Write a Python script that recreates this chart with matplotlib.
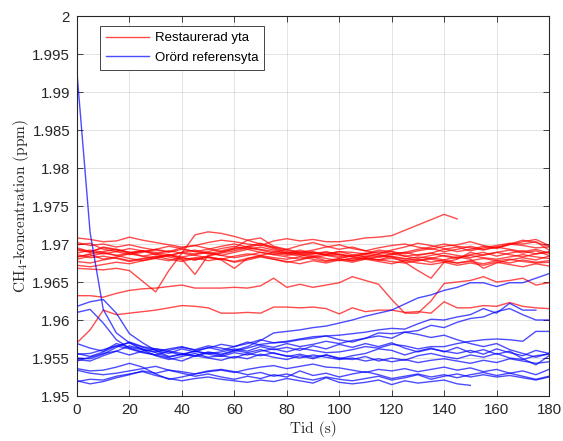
import numpy as np
import matplotlib
matplotlib.use("Agg")
import matplotlib.pyplot as plt
from matplotlib.ticker import FuncFormatter, MultipleLocator
from matplotlib.lines import Line2D

nan = np.nan
# Time axis (s)
t = list(range(0, 181, 5))

# Values in ppb above 1900 ppb (i.e. 69.0 -> 1.9690 ppm)
red_series = {
    "R_peak": [69.3,69.0,69.5,69.2,68.8,69.0,69.3,69.0,69.5,69.8,70.2,70.5,70.3,70.0,69.8,70.4,70.7,70.4,70.6,70.3,70.3,70.5,70.8,70.9,71.1,71.8,72.5,73.2,73.9,73.3,nan,nan,nan,nan,nan,nan,nan],
    "R_a": [70.8,70.6,70.3,70.4,70.9,70.5,70.2,69.9,69.6,69.8,69.4,69.0,69.3,69.6,69.9,69.4,68.8,69.2,68.8,68.6,69.0,68.9,68.7,69.2,69.0,68.4,68.6,68.8,69.3,69.6,69.1,69.5,69.8,70.1,70.0,70.3,69.2],
    "R_dip30": [66.8,66.7,66.6,66.8,66.5,65.1,63.7,66.5,68.8,71.2,71.6,71.4,71.0,70.5,70.0,69.6,69.2,68.8,69.0,68.6,68.4,68.0,68.2,67.9,68.1,67.8,68.0,67.6,67.9,67.5,67.7,67.4,67.8,67.5,67.9,67.6,67.8],
    "R_dip45": [69.9,70.1,69.3,69.0,69.4,69.1,68.9,68.6,68.0,66.0,68.5,68.9,69.4,69.7,70.1,69.5,69.0,68.6,68.9,68.5,68.2,68.5,68.8,68.6,68.3,68.0,68.3,68.1,68.5,68.2,68.6,68.9,68.4,68.8,69.1,68.7,68.9],
    "R_dip60": [69.2,68.9,69.6,69.3,68.9,68.4,68.7,69.1,68.8,68.5,68.2,67.9,66.8,68.1,68.5,68.9,69.3,69.8,70.2,69.7,69.3,69.6,69.1,68.8,69.2,69.6,70.1,69.8,69.4,69.0,69.3,69.7,69.4,70.0,69.8,69.5,69.6],
    "R_dip135": [68.8,69.2,68.9,68.5,68.8,69.1,68.7,68.4,68.9,69.2,68.8,68.5,68.9,69.3,68.9,68.6,68.9,68.6,68.2,68.5,68.7,68.4,68.6,68.4,68.3,67.6,66.5,65.5,67.6,68.0,68.9,68.5,68.9,69.2,68.8,69.1,68.5],
    "R_dip155": [68.3,68.6,68.0,68.3,68.7,68.4,68.1,68.5,68.2,67.9,68.3,68.0,67.7,68.1,68.4,68.0,67.6,67.9,68.3,67.8,68.1,67.8,68.2,67.9,68.4,68.1,67.8,68.2,67.9,68.3,68.0,66.8,67.5,67.9,68.2,67.9,68.4],
    "R_b": [68.3,68.7,69.0,69.3,68.9,69.1,68.6,68.3,67.9,68.2,67.8,68.1,67.6,67.9,68.3,68.0,67.7,67.4,67.8,67.5,67.9,67.6,68.0,67.7,67.4,67.8,67.5,67.3,67.6,67.2,67.5,67.2,67.6,67.3,67.0,67.4,67.1],
    "R_c": [67.7,67.5,67.9,68.2,67.8,68.1,68.4,68.0,67.7,68.1,68.4,68.8,69.1,69.5,69.2,68.8,68.5,68.8,68.4,68.7,69.0,68.6,68.3,68.7,69.0,68.7,69.1,69.4,69.0,69.3,69.7,69.3,69.6,70.0,70.5,70.2,69.7],
    "R_d": [67.2,67.0,67.3,67.6,67.4,67.8,68.1,67.8,68.2,67.9,68.3,68.0,68.4,68.7,68.5,68.2,68.0,68.3,68.0,67.7,68.0,67.8,68.1,67.9,67.7,67.5,67.8,68.0,67.7,67.5,67.8,68.1,67.8,68.0,67.7,67.5,67.6],
    "R_e": [69.5,69.0,68.7,69.0,68.6,68.9,69.3,69.7,69.4,69.0,68.7,69.1,69.5,70.5,70.8,69.7,69.3,68.9,69.2,69.6,69.9,69.4,69.1,69.5,69.8,70.0,69.6,69.3,69.7,69.9,70.3,69.8,69.5,69.9,70.3,70.6,69.8],
    "R_f": [68.6,68.2,68.4,68.1,67.7,68.0,68.3,68.5,68.9,68.7,69.0,69.4,69.7,69.3,69.6,69.2,68.7,68.4,68.7,69.0,68.6,68.3,68.0,68.4,68.7,68.4,68.1,68.5,68.8,68.5,68.2,68.6,68.9,68.6,68.3,68.7,69.0],
    "R_g": [70.2,69.8,70.0,69.6,69.9,69.5,69.2,68.9,69.3,69.0,69.3,69.7,70.0,69.6,69.3,69.0,68.7,69.0,68.7,68.9,68.6,68.3,68.7,69.0,68.7,68.9,69.3,69.6,70.0,69.7,69.5,69.2,69.6,69.3,69.0,69.3,68.8],
    "R_h": [68.0,68.4,68.8,68.5,68.1,67.8,68.2,68.6,68.3,68.6,68.9,68.5,68.2,68.5,68.9,68.6,68.3,68.0,68.4,68.1,67.8,68.1,68.4,68.2,68.6,68.9,68.5,68.8,68.4,68.1,68.5,68.2,68.0,68.3,68.6,68.3,68.1],
    "R_low1": [63.2,63.2,63.0,63.5,63.9,64.1,64.2,64.4,64.6,64.2,64.2,64.2,64.3,64.2,64.5,65.5,64.3,64.7,64.3,64.6,64.9,65.7,65.2,64.7,62.7,60.9,60.9,62.5,64.8,65.0,65.2,65.7,65.0,65.2,65.5,64.6,64.9],
    "R_low2": [57.0,58.7,61.3,60.7,60.9,61.1,61.3,61.6,61.9,61.8,61.6,60.9,60.9,61.0,60.9,61.7,61.7,61.6,61.7,61.5,60.8,61.6,61.1,61.3,61.3,61.0,61.1,60.9,62.4,61.6,61.6,61.9,61.8,62.3,61.8,61.6,61.5],
}

blue_series = {
    "B1": [92.5,71.5,61.4,58.3,57.0,56.1,55.3,54.8,55.2,55.6,55.1,55.3,55.0,55.6,55.3,55.7,55.2,55.5,55.1,55.4,55.0,54.8,55.2,54.6,55.0,54.7,55.3,55.6,55.2,54.9,55.4,55.1,55.6,55.0,54.8,55.3,55.5],
    "B2": [61.8,62.4,62.7,60.9,58.2,57.0,56.0,55.2,55.5,55.9,55.6,55.8,56.2,55.9,56.5,56.1,56.4,56.0,56.6,56.2,56.8,56.4,56.9,56.5,57.0,56.3,55.8,56.2,55.9,55.6,56.0,55.5,56.2,55.7,55.3,56.0,55.6],
    "B3": [61.0,61.4,59.6,57.4,56.3,55.8,55.4,55.0,54.6,55.3,55.0,54.7,55.2,54.9,55.5,55.1,54.8,55.3,54.9,55.4,54.9,55.3,55.6,56.2,56.0,55.4,55.9,56.3,55.8,56.4,55.7,56.1,55.5,55.9,54.9,54.1,55.3],
    "B4": [56.9,56.3,55.9,56.9,56.4,56.1,55.8,56.2,56.5,56.0,56.3,56.8,56.5,57.1,56.7,56.4,56.9,56.5,56.8,57.2,56.9,57.3,57.6,57.9,57.6,58.4,58.1,57.7,58.0,57.4,56.9,56.5,56.9,56.1,55.6,55.1,55.6],
    "Ba": [55.6,55.2,55.8,56.6,56.2,55.7,55.4,55.9,55.6,55.3,55.8,55.5,56.0,56.5,57.3,58.3,58.5,58.7,59.0,59.2,59.6,60.0,60.5,60.9,61.3,62.1,62.9,63.3,63.9,64.3,64.9,64.9,64.4,64.9,64.9,65.5,66.1],
    "Bb": [55.5,55.6,56.1,56.6,57.0,56.4,56.0,55.6,56.2,55.8,56.4,56.0,56.5,56.9,57.4,57.0,57.2,57.5,57.8,57.9,58.0,58.2,58.4,58.7,58.9,58.8,59.5,60.1,60.0,60.4,60.7,61.5,60.9,62.2,61.3,61.3,nan],
    "Bc": [54.8,54.6,55.3,55.9,56.6,56.2,55.7,55.1,55.5,55.2,55.7,55.4,55.9,56.3,56.8,57.0,57.1,57.4,57.6,57.9,57.4,57.1,57.6,58.3,58.2,58.4,58.6,59.3,59.0,59.7,60.2,60.4,61.1,61.5,60.7,60.0,60.0],
    "Bd": [55.0,54.9,55.5,56.4,57.1,56.5,56.2,55.8,55.4,55.9,55.5,55.2,55.7,55.4,55.9,56.2,55.8,56.3,56.0,55.7,55.8,56.1,56.5,56.3,56.8,56.6,56.2,56.5,56.5,56.9,57.2,57.4,57.5,57.4,57.2,58.5,58.5],
    "B5": [54.6,55.1,55.6,55.9,55.4,55.9,56.2,56.0,56.4,56.1,56.6,56.3,56.0,55.7,56.1,55.6,55.3,55.0,55.4,55.1,54.8,55.0,54.6,54.9,54.5,54.8,54.4,54.7,54.9,54.6,54.3,54.7,54.4,54.9,54.6,54.3,54.5],
    "B6": [53.6,53.3,53.4,53.8,54.3,53.8,52.9,52.2,52.5,52.9,53.2,53.4,53.1,53.5,53.8,54.0,53.6,53.9,54.2,53.8,53.7,53.4,53.1,53.5,53.3,53.6,53.2,53.5,53.8,53.4,53.7,53.2,53.5,53.0,53.3,52.8,53.5],
    "B7": [53.4,53.0,52.8,53.0,53.3,53.6,53.9,53.4,53.0,52.6,52.9,52.5,52.2,52.6,52.3,52.8,52.5,53.3,52.7,53.0,52.5,52.9,53.2,52.8,52.3,52.6,52.9,52.5,52.8,52.4,52.8,53.1,52.7,53.0,52.6,52.2,52.6],
    "B8": [52.0,51.6,51.9,52.4,52.8,53.3,53.0,53.4,53.2,52.9,53.3,53.5,53.2,52.8,53.1,52.6,52.9,52.4,52.1,52.5,52.2,52.0,52.3,52.6,52.1,52.4,52.8,52.2,52.6,52.9,52.5,52.8,52.5,52.7,52.4,52.1,52.5],
    "B9": [51.9,52.2,52.1,52.6,52.9,53.2,52.7,52.3,52.0,52.3,52.5,52.2,52.0,51.8,52.1,51.9,52.3,52.0,51.7,52.4,51.8,51.6,51.8,52.1,51.5,52.0,51.7,51.9,52.1,51.6,51.4,nan,nan,nan,nan,nan,nan],
}

labels = ["Restaurerad yta", "Orörd referensyta"]
x_ticks = [0, 20, 40, 60, 80, 100, 120, 140, 160, 180]

plt.rcParams["mathtext.fontset"] = "cm"

fig = plt.figure(figsize=(5.63, 4.41), dpi=100)
ax = fig.add_axes([77/563, 1-396/441, (549-77)/563, (396-16)/441])

def to_ppm(v):
    return 1.9 + np.array(v, dtype=float) / 1000.0

for name, vals in red_series.items():
    ax.plot(t, to_ppm(vals), color=(1, 0, 0), lw=1.0, alpha=0.7)
for name, vals in blue_series.items():
    ax.plot(t, to_ppm(vals), color=(0, 0, 1), lw=1.0, alpha=0.7)

dark = (0.15, 0.15, 0.15)
ax.set_xlim(0, 180)
ax.set_ylim(1.95, 2.0)
ax.set_xticks(x_ticks)
ax.yaxis.set_major_locator(MultipleLocator(0.005))
ax.yaxis.set_major_formatter(FuncFormatter(lambda v, p: ("%.4f" % v).rstrip("0").rstrip(".")))
ax.grid(True, color=dark, alpha=0.15, lw=0.6)
ax.set_axisbelow(True)
for s in ax.spines.values():
    s.set_color(dark)
    s.set_linewidth(0.8)
ax.tick_params(direction="in", top=True, right=True, length=4, width=0.6,
               colors=dark, labelsize=10.8, pad=5)
for lab in ax.get_xticklabels() + ax.get_yticklabels():
    lab.set_fontfamily("Liberation Sans")

ax.set_xlabel("Tid (s)", fontfamily="cmr10", fontsize=11, color=dark, labelpad=3)
ax.set_ylabel(r"CH$_4$-koncentration (ppm)", fontfamily="cmr10", fontsize=11,
              color=dark, labelpad=1)

h1 = Line2D([], [], color=(1, 0, 0), lw=1.0, alpha=0.7)
h2 = Line2D([], [], color=(0, 0, 1), lw=1.0, alpha=0.7)
leg = ax.legend([h1, h2], labels, loc="upper left",
                bbox_to_anchor=((100-77)/472, (396-26)/380), borderaxespad=0,
                fancybox=False, framealpha=1, edgecolor=dark,
                prop={"family": "Liberation Sans", "size": 9.5}, handlelength=3.3,
                handletextpad=0.4, borderpad=0.45, labelspacing=0.55)
leg.get_frame().set_linewidth(0.6)

fig.savefig("out.png", dpi=100)
